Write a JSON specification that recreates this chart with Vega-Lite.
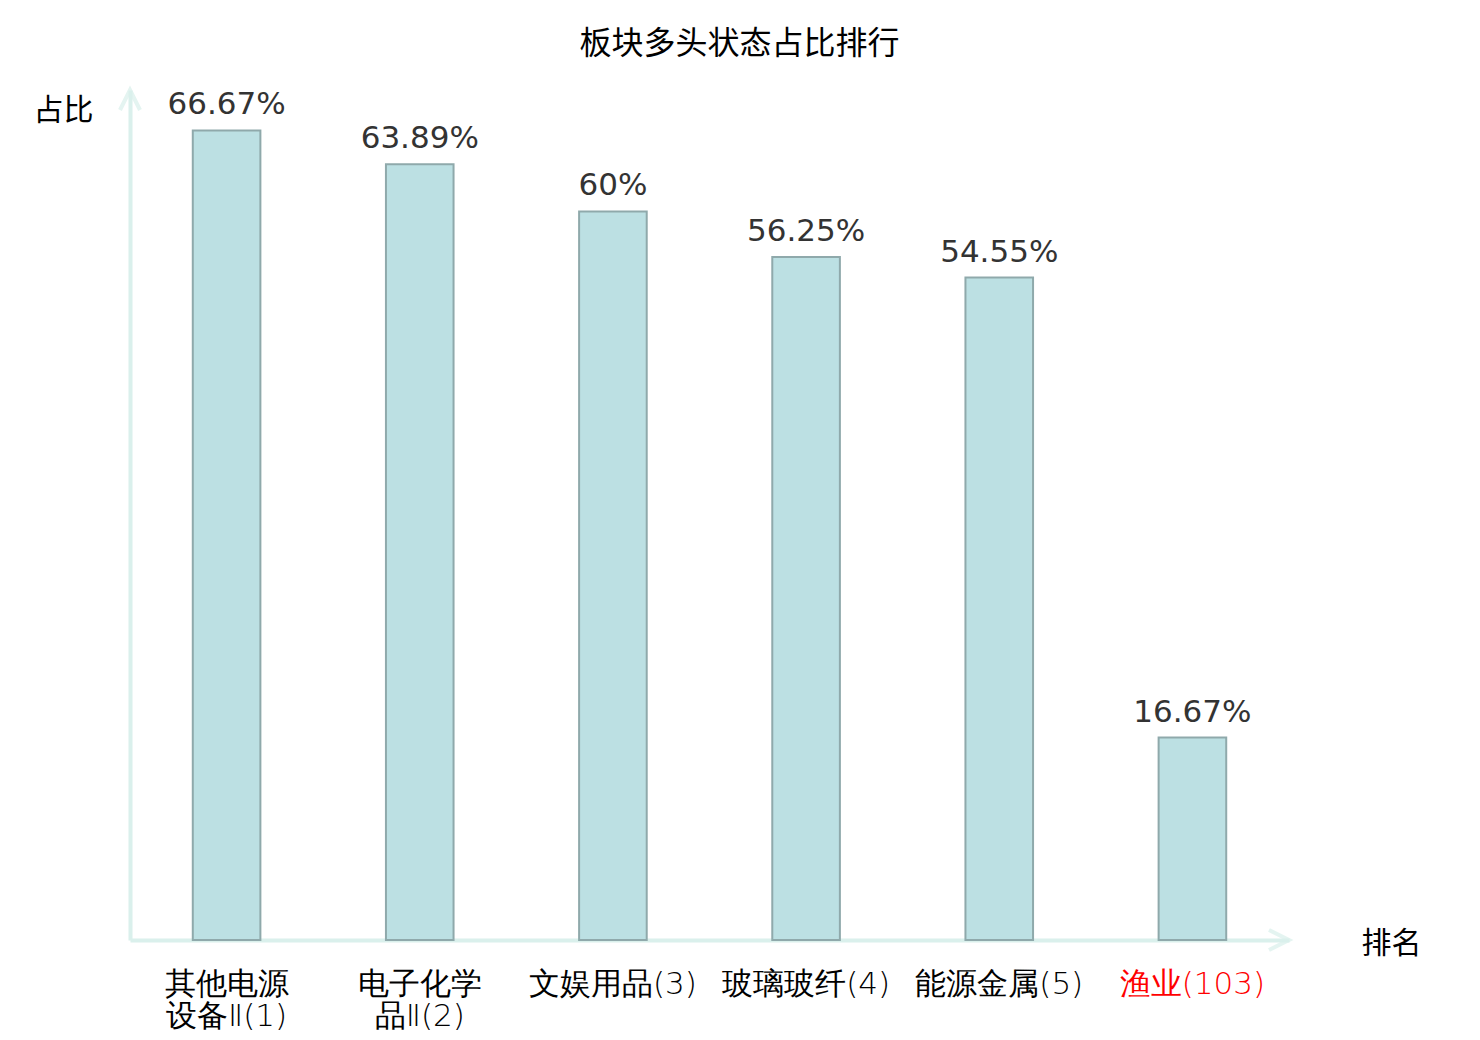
{
  "$schema": "https://vega.github.io/schema/vega-lite/v6.json",
  "width": 1159,
  "height": 850,
  "autosize": "none",
  "padding": {"left": 130, "top": 90, "right": 191, "bottom": 100},
  "background": "white",
  "title": {
    "text": "板块多头状态占比排行",
    "font": "Noto Sans CJK SC",
    "fontSize": 32,
    "fontWeight": "normal",
    "color": "#000000",
    "anchor": "middle",
    "dx": 30,
    "offset": 21
  },
  "config": {"view": {"stroke": null}},
  "data": {
    "values": [
      {"name": "其他电源\n设备Ⅱ(1)", "value": 66.67, "label": "66.67%", "rank": 1},
      {"name": "电子化学\n品Ⅱ(2)", "value": 63.89, "label": "63.89%", "rank": 2},
      {"name": "文娱用品(3)", "value": 60, "label": "60%", "rank": 3},
      {"name": "玻璃玻纤(4)", "value": 56.25, "label": "56.25%", "rank": 4},
      {"name": "能源金属(5)", "value": 54.55, "label": "54.55%", "rank": 5},
      {"name": "渔业(103)", "value": 16.67, "label": "16.67%", "rank": 103}
    ]
  },
  "encoding": {
    "x": {
      "field": "name",
      "type": "nominal",
      "sort": null,
      "scale": {"paddingInner": 0.65, "paddingOuter": 0.325},
      "axis": {
        "title": "排名",
        "titleFont": "Noto Sans CJK SC",
        "titleFontSize": 30,
        "titleFontWeight": "normal",
        "titleColor": "#000000",
        "titleAngle": 0,
        "titleX": 1261,
        "titleY": 3,
        "titleAlign": "center",
        "titleBaseline": "middle",
        "labelAngle": 0,
        "labelFont": "DejaVu Sans",
        "labelFontWeight": 200,
        "labelFontSize": 31,
        "labelColor": {"condition": {"test": "datum.value == '渔业(103)'", "value": "#ff0000"}, "value": "#000000"},
        "labelExpr": "split(datum.label, '\\n')",
        "labelLineHeight": 32,
        "labelPadding": 29,
        "labelBaseline": "top",
        "ticks": false,
        "domainColor": "#daf0ec",
        "domainWidth": 4
      }
    },
    "y": {
      "field": "value",
      "type": "quantitative",
      "scale": {"domain": [0, 70], "nice": false},
      "axis": {
        "title": "占比",
        "titleFont": "Noto Sans CJK SC",
        "titleFontSize": 30,
        "titleFontWeight": "normal",
        "titleColor": "#000000",
        "titleAngle": 0,
        "titleX": -67,
        "titleY": 20,
        "titleAlign": "center",
        "titleBaseline": "middle",
        "labels": false,
        "ticks": false,
        "grid": false,
        "domainColor": "#daf0ec",
        "domainWidth": 4
      }
    }
  },
  "layer": [
    {
      "mark": {"type": "bar", "fill": "#bce0e3", "stroke": "#8fa9ab", "strokeWidth": 2}
    },
    {
      "mark": {"type": "text", "baseline": "bottom", "dy": -9, "font": "DejaVu Sans", "fontSize": 31, "color": "#333333"},
      "encoding": {"text": {"field": "label"}}
    },
    {
      "data": {"values": [{"v": 70}]},
      "mark": {"type": "point", "shape": "M-1,2L0,0L1,2", "filled": false, "stroke": "#daf0ec", "strokeWidth": 4, "size": 400},
      "encoding": {"x": {"value": 0}, "y": {"field": "v", "type": "quantitative"}}
    },
    {
      "data": {"values": [{"v": 0}]},
      "mark": {"type": "point", "shape": "M-2,-1L0,0L-2,1", "filled": false, "stroke": "#daf0ec", "strokeWidth": 4, "size": 400},
      "encoding": {"x": {"value": {"expr": "width"}}, "y": {"field": "v", "type": "quantitative"}}
    }
  ]
}
